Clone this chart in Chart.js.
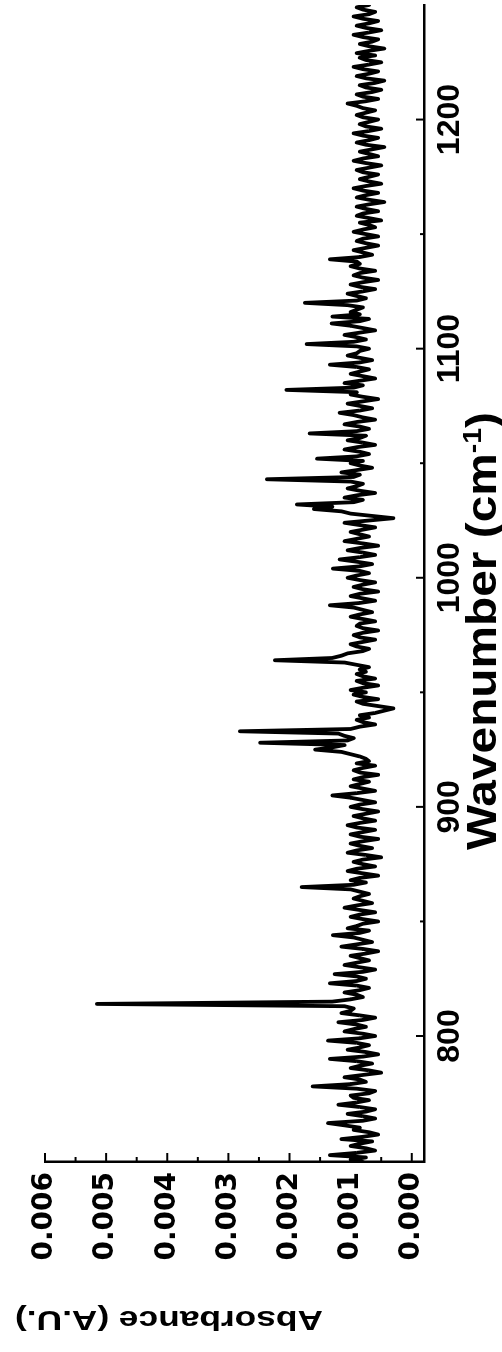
<!DOCTYPE html>
<html>
<head>
<meta charset="utf-8">
<script src="https://cdn.jsdelivr.net/npm/chart.js@4.4.1/dist/chart.umd.min.js"></script>
<style>
  html, body { margin: 0; padding: 0; background: #fff; overflow: hidden; }
  #wrap {
    position: absolute; left: 0; top: 0;
    width: 1352px; height: 502px;
    transform-origin: 0 0;
    transform: translate(0, 1352px) rotate(-90deg);
  }
</style>
</head>
<body>
<div id="wrap"><canvas id="spectrum" width="1352" height="502"></canvas></div>
<script>
// spectrum sampled every 1 cm-1 from 745 to 1250, absorbance in 1e-3 A.U.
const wnStart = 745;
const wnStep = 1;
const absorbance = [
  0.8, 1.0, 0.75, 1.34, 0.9, 0.6, 0.75, 1.0, 0.85, 0.65,      // 745
  1.15, 0.8, 0.55, 0.7, 0.95, 0.85, 1.1, 1.37, 0.8, 0.6,      // 755
  0.8, 1.05, 0.75, 0.6, 0.85, 1.2, 0.9, 0.7, 0.95, 1.0,       // 765
  0.7, 0.6, 0.9, 1.62, 1.0, 0.75, 0.85, 1.1, 0.8, 0.5,        // 775
  0.7, 1.0, 0.85, 0.65, 0.9, 1.34, 0.8, 0.55, 0.75, 1.05,     // 785
  0.85, 0.7, 0.9, 1.37, 0.85, 0.6, 0.8, 1.1, 0.95, 0.75,      // 795
  0.9, 1.2, 0.8, 0.6, 0.85, 1.15, 1.0, 0.95, 1.1, 5.15,       // 805
  1.3, 1.0, 0.8, 0.9, 1.1, 0.85, 0.7, 0.9, 1.34, 0.9,         // 815
  0.75, 0.9, 1.26, 0.8, 0.6, 0.85, 1.1, 0.9, 0.7, 0.85,       // 825
  1.0, 0.75, 0.55, 0.8, 1.15, 0.9, 0.65, 0.8, 0.95, 1.29,     // 835
  0.85, 0.7, 1.05, 0.9, 0.8, 0.55, 0.8, 1.0, 0.85, 0.6,       // 845
  0.85, 1.1, 0.9, 0.65, 0.8, 0.95, 0.85, 0.7, 0.85, 1.0,      // 855
  1.8, 0.95, 0.75, 1.0, 0.85, 0.55, 0.8, 1.05, 0.9, 0.6,      // 865
  0.8, 0.95, 0.8, 0.5, 0.75, 1.05, 0.9, 0.65, 0.85, 1.0,      // 875
  0.8, 0.55, 0.85, 1.0, 0.8, 0.6, 0.9, 1.05, 0.85, 0.6,       // 885
  0.8, 0.95, 0.75, 0.55, 0.8, 1.0, 0.85, 0.6, 0.8, 1.0,       // 895
  1.3, 0.9, 0.6, 0.8, 1.0, 0.85, 0.7, 0.95, 0.8, 0.55,        // 905
  0.85, 0.95, 0.8, 0.6, 0.9, 0.7, 0.75, 0.85, 1.0, 1.15,      // 915
  1.58, 1.3, 1.1, 2.48, 1.05, 0.95, 1.1, 1.2, 2.81, 1.0,      // 925
  0.85, 0.6, 0.8, 0.9, 0.7, 0.85, 0.6, 0.45, 0.3, 0.55,       // 935
  0.8, 0.9, 0.55, 0.8, 0.95, 0.75, 1.0, 0.8, 0.55, 0.8,       // 945
  0.9, 0.6, 0.8, 0.9, 0.75, 0.85, 0.7, 0.9, 1.1, 2.24,        // 955
  1.3, 1.15, 1.05, 0.8, 0.7, 0.9, 1.0, 0.8, 0.6, 0.85,        // 965
  0.95, 0.8, 0.55, 0.8, 0.9, 0.85, 0.6, 0.8, 1.0, 0.85,       // 975
  0.65, 0.8, 0.95, 1.34, 0.85, 0.6, 0.8, 1.0, 0.85, 0.55,     // 985
  0.8, 0.95, 0.8, 0.6, 0.85, 1.05, 0.9, 0.7, 0.85, 1.29,      // 995
  0.85, 0.65, 0.9, 1.18, 0.85, 0.6, 0.8, 1.05, 0.85, 0.55,    // 1005
  0.8, 1.1, 0.9, 0.7, 0.85, 1.0, 0.8, 0.6, 0.85, 1.1,         // 1015
  0.7, 0.3, 0.65, 1.0, 1.15, 1.6, 1.3, 1.88, 0.95, 0.8,       // 1025
  1.1, 0.9, 0.6, 0.85, 1.05, 0.9, 0.8, 1.0, 2.37, 0.95,       // 1035
  0.85, 1.15, 0.9, 0.65, 0.85, 1.0, 0.8, 1.55, 0.9, 0.7,      // 1045
  0.85, 1.1, 0.9, 0.6, 0.8, 1.05, 0.85, 0.75, 1.67, 0.9,      // 1055
  0.7, 0.85, 1.1, 0.9, 0.6, 0.8, 0.95, 1.18, 0.85, 0.65,      // 1065
  0.85, 1.05, 0.8, 0.55, 0.8, 1.0, 0.9, 2.05, 0.95, 0.8,      // 1075
  1.1, 0.85, 0.6, 0.8, 1.0, 0.85, 0.7, 0.9, 1.34, 0.85,       // 1085
  0.65, 0.85, 1.05, 0.9, 0.85, 0.7, 0.9, 1.72, 0.95, 0.75,    // 1095
  0.9, 1.1, 0.85, 0.6, 0.8, 1.0, 1.31, 0.85, 0.7, 1.3,        // 1105
  0.85, 1.0, 0.9, 0.8, 1.05, 1.75, 0.9, 0.75, 0.9, 1.05,      // 1115
  0.8, 0.6, 0.85, 1.0, 0.8, 0.55, 0.8, 0.95, 0.85, 0.6,       // 1125
  0.85, 1.0, 0.85, 0.9, 1.34, 0.85, 0.65, 0.8, 0.95, 0.75,    // 1135
  0.55, 0.75, 0.9, 0.8, 0.55, 0.75, 0.95, 0.8, 0.6, 0.7,      // 1145
  0.85, 0.5, 0.7, 0.9, 0.8, 0.55, 0.75, 0.9, 0.7, 0.45,       // 1155
  0.7, 0.9, 0.75, 0.55, 0.8, 0.95, 0.75, 0.5, 0.7, 0.85,      // 1165
  0.7, 0.55, 0.8, 0.9, 0.7, 0.5, 0.75, 0.95, 0.8, 0.55,       // 1175
  0.7, 0.85, 0.65, 0.45, 0.75, 0.9, 0.7, 0.55, 0.8, 0.95,     // 1185
  0.7, 0.5, 0.75, 0.85, 0.7, 0.55, 0.8, 0.9, 0.75, 0.6,       // 1195
  0.8, 0.9, 1.05, 0.75, 0.55, 0.8, 0.9, 0.65, 0.5, 0.75,      // 1205
  0.85, 0.6, 0.45, 0.75, 0.9, 0.7, 0.55, 0.8, 0.95, 0.7,      // 1215
  0.5, 0.75, 0.85, 0.6, 0.9, 0.7, 0.45, 0.7, 0.85, 0.65,      // 1225
  0.55, 0.8, 0.95, 0.7, 0.5, 0.75, 0.9, 0.7, 0.55, 0.8,       // 1235
  0.95, 0.7, 0.6, 0.8, 0.9, 0.7                               // 1245-1250
];

const wnTicks = [800, 900, 1000, 1100, 1200];
const wnMinorTicks = [850, 950, 1050, 1150];
const absTicks = [0, 1, 2, 3, 4, 5, 6];
const absTickLabels = ['0.000', '0.001', '0.002', '0.003', '0.004', '0.005', '0.006'];
const absMinorTicks = [0.5, 1.5, 2.5, 3.5, 4.5, 5.5];

const points = absorbance.map((a, i) => ({ x: wnStart + i * wnStep, y: a }));

// tick marks point into the plot
const innerTicks = {
  id: 'innerTicks',
  afterDatasetsDraw(chart) {
    const { ctx, chartArea, scales } = chart;
    const x = scales.x, y = scales.y;
    ctx.save();
    ctx.strokeStyle = '#000';
    ctx.lineWidth = 2;
    function mark(x1, y1, x2, y2) {
      ctx.beginPath(); ctx.moveTo(x1, y1); ctx.lineTo(x2, y2); ctx.stroke();
    }
    wnTicks.forEach(v => { const p = x.getPixelForValue(v); mark(p, chartArea.bottom, p, chartArea.bottom - 8); });
    wnMinorTicks.forEach(v => { const p = x.getPixelForValue(v); mark(p, chartArea.bottom, p, chartArea.bottom - 4); });
    absTicks.forEach(v => { const p = y.getPixelForValue(v); mark(chartArea.left, p, chartArea.left + 9, p); });
    absMinorTicks.forEach(v => { const p = y.getPixelForValue(v); mark(chartArea.left, p, chartArea.left + 5, p); });
    ctx.restore();
  }
};

// axis titles, drawn by hand for the superscript
const axisTitles = {
  id: 'axisTitles',
  afterDraw(chart) {
    const ctx = chart.ctx;
    ctx.save();
    ctx.fillStyle = '#000';
    ctx.textBaseline = 'alphabetic';
    ctx.textAlign = 'left';

    const big = 'bold 42px "Liberation Sans"';
    const sup = 'bold 25px "Liberation Sans"';
    ctx.font = big;
    const w1 = ctx.measureText('Wavenumber (cm').width;
    const w3 = ctx.measureText(')').width;
    ctx.font = sup;
    const w2 = ctx.measureText('-1').width;
    const sx = 438 / (w1 + w2 + w3);
    ctx.save();
    ctx.translate(502, 496);
    ctx.scale(sx, 1);
    ctx.font = big;
    ctx.fillText('Wavenumber (cm', 0, 0);
    ctx.font = sup;
    ctx.fillText('-1', w1, -15);
    ctx.font = big;
    ctx.fillText(')', w1 + w2, 0);
    ctx.restore();

    ctx.font = 'bold 27px "Liberation Sans"';
    const wy = ctx.measureText('Absorbance (A.U.)').width;
    ctx.translate(41, 323);
    ctx.rotate(-Math.PI / 2);
    ctx.scale(308 / wy, 1);
    ctx.fillText('Absorbance (A.U.)', 0, 0);
    ctx.restore();
  }
};

new Chart(document.getElementById('spectrum').getContext('2d'), {
  type: 'line',
  data: {
    datasets: [{
      data: points,
      borderColor: '#000',
      borderWidth: 3.8,
      borderJoinStyle: 'round',
      borderCapStyle: 'round',
      pointRadius: 0,
      tension: 0,
      fill: false
    }]
  },
  options: {
    responsive: false,
    animation: false,
    events: [],
    layout: { padding: { top: 45, right: 5, bottom: 0, left: 0 } },
    plugins: { legend: { display: false }, tooltip: { enabled: false } },
    scales: {
      x: {
        type: 'linear',
        min: 745,
        max: 1250,
        afterBuildTicks: s => { s.ticks = wnTicks.map(v => ({ value: v })); },
        afterFit: s => { s.height = 78; },
        grid: { display: false, drawTicks: false },
        border: { display: true, color: '#000', width: 2.5 },
        ticks: {
          color: '#000',
          padding: 7,
          maxRotation: 0,
          autoSkip: false,
          font: { family: 'Liberation Sans', weight: 'bold', size: 32 },
          callback: v => String(v)
        }
      },
      y: {
        type: 'linear',
        min: -0.2,
        max: 6,
        afterBuildTicks: s => { s.ticks = absTicks.map(v => ({ value: v })); },
        afterFit: s => { s.width = 190; },
        grid: { display: false, drawTicks: false },
        border: { display: true, color: '#000', width: 2.5 },
        ticks: {
          color: '#000',
          padding: 10,
          font: { family: 'DejaVu Sans', weight: 'bold', size: 28 },
          callback: (v, i) => absTickLabels[i]
        }
      }
    }
  },
  plugins: [innerTicks, axisTitles]
});
</script>
</body>
</html>
